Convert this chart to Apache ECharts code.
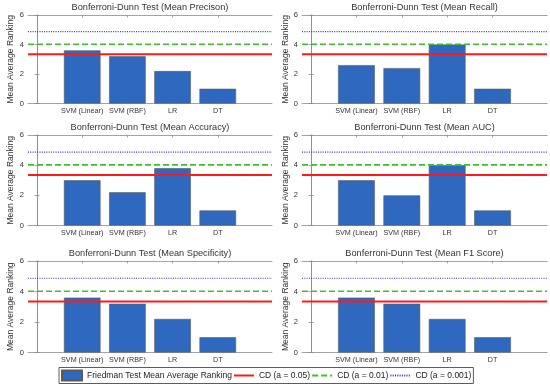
<!DOCTYPE html>
<html>
<head>
<meta charset="utf-8">
<script src="https://cdn.jsdelivr.net/npm/echarts@6/dist/echarts.min.js"></script>
<style>html,body{margin:0;padding:0;background:#fff}#c{width:550px;height:387px}</style>
</head>
<body>
<div id="c"></div>
<script>
// ---- data ----
const categories = ['SVM (Linear)', 'SVM (RBF)', 'LR', 'DT'];
const panelTitles = [
  'Bonferroni-Dunn Test (Mean Precison)',
  'Bonferroni-Dunn Test (Mean Recall)',
  'Bonferroni-Dunn Test (Mean Accuracy)',
  'Bonferroni-Dunn Test (Mean AUC)',
  'Bonferroni-Dunn Test (Mean Specificity)',
  'Bonferroni-Dunn Test (Mean F1 Score)'
];
const precision   = [3.6, 3.2, 2.2, 1.0];
const recall      = [2.6, 2.4, 4.0, 1.0];
const accuracy    = [3.0, 2.2, 3.8, 1.0];
const auc         = [3.0, 2.0, 4.0, 1.0];
const specificity = [3.6, 3.2, 2.2, 1.0];
const f1score     = [3.6, 3.2, 2.2, 1.0];
const cdNames  = ['CD (a = 0.05)', 'CD (a = 0.01)', 'CD (a = 0.001)'];
const cdValues = [3.34, 4.02, 4.87];
const barName = 'Friedman Test Mean Average Ranking';
const yTicks = [0, 2, 4, 6];

// ---- layout / style ----
const panelData = [precision, recall, accuracy, auc, specificity, f1score];
const xMin = -0.2, xMax = 5.2;
const cols = [{left: 28, width: 244, nameGap: 13}, {left: 302, width: 245, nameGap: 8.5}];
const rows = [{top: 15, height: 88.5}, {top: 135, height: 90.5}, {top: 261, height: 91.5}];
const FONT = "'Liberation Sans', Arial, Helvetica, sans-serif";
const boxColor = '#8c8c8c';
const textColor = '#333';
const cdStyles = [
  {color: '#ff1a1a', width: 2, type: 'solid'},
  {color: '#3fbf2a', width: 1.6, type: [6, 3]},
  {color: '#2a36d6', width: 1.2, type: [1, 1.3]}
];
const catPos = categories.map((c, i) => i + 1);

const grid = [], xAxis = [], yAxis = [], series = [], title = [];
panelData.forEach((vals, p) => {
  const col = cols[p % 2], row = rows[Math.floor(p / 2)];
  grid.push({left: col.left, top: row.top, width: col.width, height: row.height, containLabel: false});
  const gi = p;
  xAxis.push({
    type: 'value', gridIndex: gi, min: xMin, max: xMax, position: 'bottom',
    axisLine: {show: true, onZero: false, lineStyle: {color: boxColor, width: 0.8}},
    axisTick: {show: true, inside: true, length: 2.5, customValues: catPos, lineStyle: {color: boxColor, width: 0.8}},
    axisLabel: {show: true, customValues: catPos, margin: 4, fontSize: 7.2, color: textColor, fontFamily: FONT,
      formatter: v => categories[Math.round(v) - 1] || ''},
    splitLine: {show: false}
  });
  xAxis.push({
    type: 'value', gridIndex: gi, min: xMin, max: xMax, position: 'top',
    axisLine: {show: true, onZero: false, lineStyle: {color: boxColor, width: 0.8}},
    axisTick: {show: true, inside: true, length: 2.5, customValues: catPos, lineStyle: {color: boxColor, width: 0.8}},
    axisLabel: {show: false}, splitLine: {show: false}
  });
  yAxis.push({
    type: 'value', gridIndex: gi, min: 0, max: 6, interval: 2, position: 'left',
    name: 'Mean Average Ranking', nameLocation: 'middle', nameGap: col.nameGap,
    nameTextStyle: {fontSize: 8.5, color: textColor, fontFamily: FONT},
    axisLine: {show: true, lineStyle: {color: boxColor, width: 0.8}},
    axisTick: {show: true, inside: true, length: 2.5, lineStyle: {color: boxColor, width: 0.8}},
    axisLabel: {show: true, margin: 4, fontSize: 7.5, color: textColor, fontFamily: FONT},
    splitLine: {show: false}
  });
  yAxis.push({
    type: 'value', gridIndex: gi, min: 0, max: 6, interval: 2, position: 'right',
    axisLine: {show: true, lineStyle: {color: boxColor, width: 0.8}},
    axisTick: {show: true, inside: true, length: 2.5, lineStyle: {color: boxColor, width: 0.8}},
    axisLabel: {show: false}, splitLine: {show: false}
  });
  series.push({
    type: 'bar', name: barName, xAxisIndex: 2 * p, yAxisIndex: 2 * p,
    barWidth: '81%',
    itemStyle: {color: '#2f69bf', borderColor: '#5a5a5a', borderWidth: 0.6},
    data: vals.map((v, i) => [catPos[i], v]),
    silent: true, animation: false
  });
  cdValues.forEach((cd, k) => {
    series.push({
      type: 'line', name: cdNames[k], xAxisIndex: 2 * p, yAxisIndex: 2 * p,
      symbol: 'none', lineStyle: cdStyles[k], itemStyle: {color: cdStyles[k].color},
      data: [[xMin, cd], [xMax, cd]], silent: true, animation: false, z: 3
    });
  });
  title.push({
    text: panelTitles[p], left: col.left + col.width / 2, top: row.top - 12, textAlign: 'center', padding: 0,
    textStyle: {fontSize: 9.2, fontWeight: 'normal', color: textColor, fontFamily: FONT}
  });
});

const chart = echarts.init(document.getElementById('c'), null, {renderer: 'canvas'});
chart.setOption({
  animation: false,
  backgroundColor: '#fff',
  title, grid, xAxis, yAxis, series,
  legend: {
    left: 59, top: 367.5, orient: 'horizontal',
    data: [{name: barName, icon: 'rect'}].concat(cdNames.map(n => ({name: n, itemStyle: {opacity: 0}}))),
    itemWidth: 20, itemHeight: 10, itemGap: 1,
    padding: [2, 2, 2, 2],
    borderColor: '#333', borderWidth: 0.8, backgroundColor: '#fff',
    textStyle: {fontSize: 8.5, color: '#222', fontFamily: FONT},
    selectedMode: false
  }
});
</script>
</body>
</html>
